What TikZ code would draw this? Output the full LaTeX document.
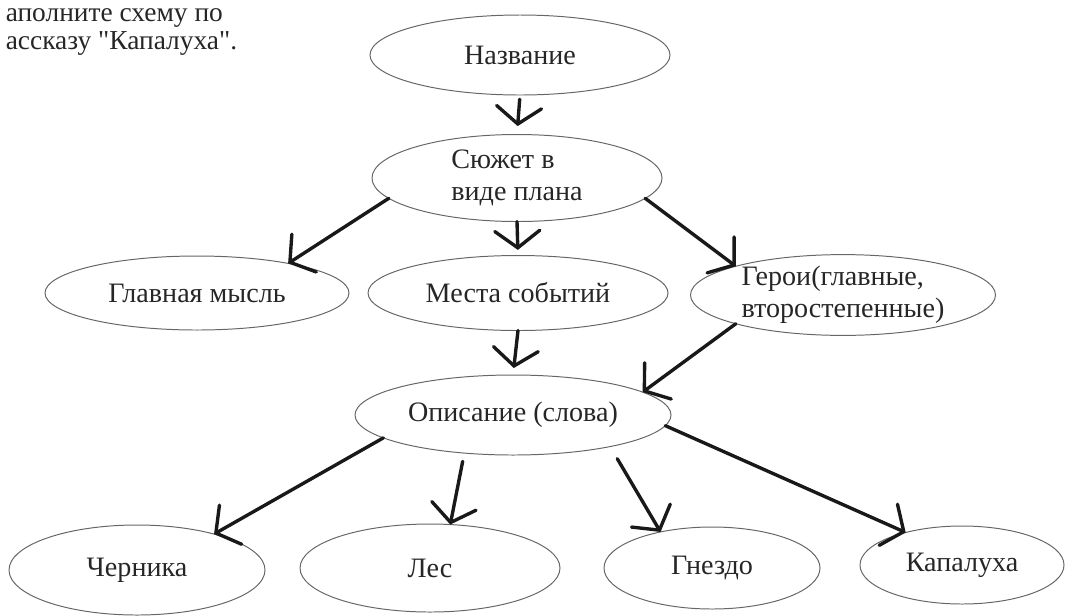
\documentclass[tikz,border=0pt]{standalone}
\usepackage{fontspec}
\setmainfont{Liberation Serif}
\newfontfamily\taskfont{Liberation Serif}
\usepackage{tikz}
\usetikzlibrary{shapes,arrows.meta}
\tikzstyle{oval}  = [ellipse, draw=black!60, line width=0.7pt, inner sep=0pt, outer sep=0pt, text=black!85, font=\fontsize{20}{22.5}\selectfont]
\tikzstyle{arrow} = [line width=2.4pt, line cap=round, black!90, -{Straight Barb[length=12pt,width=32pt,line cap=round]}]

\begin{document}
\begin{tikzpicture}[]
		\useasboundingbox (0,0) rectangle (27,-15.375);

		\node[anchor=base west, align=left, text=black!85, font=\taskfont\fontsize{19.5}{19.9}\selectfont] (task) at (0.02,-1.23) {аполните схему по\\ассказу "Капалуха".};

		\node[oval, minimum width=7.5cm, minimum height=2cm] (nazv) at (13,-1.375) {Название};
		\node[oval, minimum width=7.25cm, minimum height=2.175cm, align=left] (sjuzhet) at (12.925,-4.45) {Сюжет в\\виде плана};

		\node[oval, minimum width=7.6cm, minimum height=1.85cm] (mysl) at (4.925,-7.325) {Главная мысль};
		\node[oval, minimum width=7.5cm, minimum height=1.875cm] (mesta) at (12.95,-7.325) {Места событий};
		\node[oval, minimum width=7.625cm, minimum height=1.9cm, align=left] (geroi) at (21.075,-7.375) {Герои(главные,\\второстепенные)};

		\node[oval, minimum width=7.9cm, minimum height=2cm] (opisanie) at (12.825,-10.375) {Описание (слова)};

		\node[oval, minimum width=6.4cm, minimum height=2.25cm] (chernika) at (3.425,-14.25) {Черника};
		\node[oval, minimum width=6.5cm, minimum height=2.2cm] (les) at (10.75,-14.2) {Лес};
		\node[oval, minimum width=5.4cm, minimum height=2.05cm] (gnezdo) at (17.8,-14.2) {Гнездо};
		\node[oval, minimum width=5.1cm, minimum height=1.95cm] (kapaluha) at (24.05,-14.125) {Капалуха};

		\draw[arrow, shorten <=3pt, shorten >=6pt] (nazv.south) -- (sjuzhet.north);
		\draw[arrow] (sjuzhet.189) -- (mysl.18);
		\draw[arrow, shorten >=4pt] (sjuzhet.south) -- (mesta.north);
		\draw[arrow] (sjuzhet.-9) -- (geroi.165);

		\draw[arrow, shorten >=5pt] (mesta.south) -- (opisanie.north);
		\draw[arrow] (geroi.195) -- (opisanie.10);

		\draw[arrow] (opisanie.190) -- (chernika.25);
		\draw[arrow, shorten <=6pt] (opisanie.218) -- (les.65);
		\draw[arrow, shorten <=10pt] (opisanie.-18) -- (gnezdo.145);
		\draw[arrow] (opisanie.-4) -- (kapaluha.150);
	\end{tikzpicture}
\end{document}
